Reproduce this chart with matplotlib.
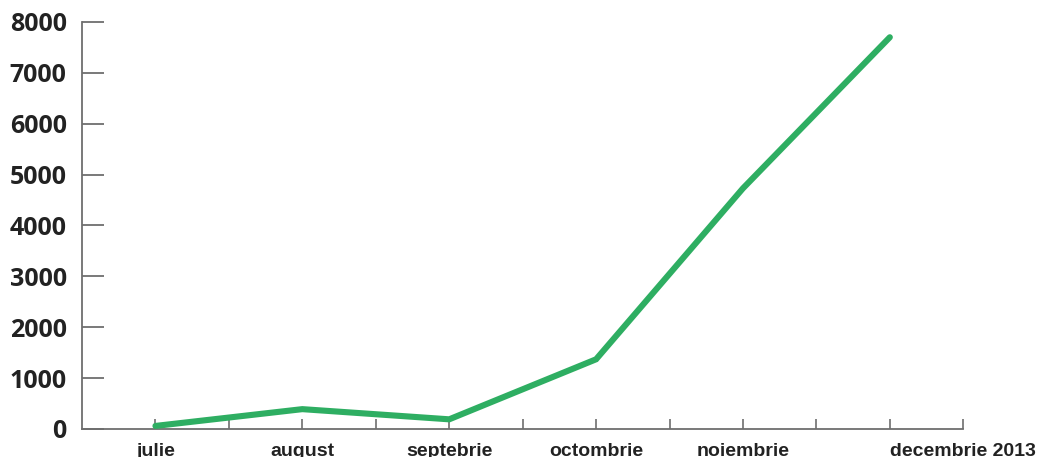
import matplotlib.pyplot as plt
import numpy as np

# monthly values
months = ['julie', 'august', 'septebrie', 'octombrie', 'noiembrie', 'decembrie 2013']
values = [60, 390, 190, 1370, 4730, 7700]
y_ticks = [0, 1000, 2000, 3000, 4000, 5000, 6000, 7000, 8000]

green = '#2eae62'
axis_gray = '#6e6e6e'

fig = plt.figure(figsize=(10.38, 4.57), dpi=100)
ax = fig.add_axes([0.079, 0.0613, 0.849, 0.8906])

x = np.arange(len(months))
ax.plot(x, values, color=green, linewidth=4.4, solid_capstyle='round',
        solid_joinstyle='miter', clip_on=False, zorder=3)

ax.set_xlim(-0.5, 5.5)
ax.set_ylim(0, 8000)

for side in ['top', 'right']:
    ax.spines[side].set_visible(False)
for side in ['left', 'bottom']:
    ax.spines[side].set_color(axis_gray)
    ax.spines[side].set_linewidth(1.3)

# y axis: long inward ticks, bold labels
ax.set_yticks(y_ticks)
ax.set_yticklabels([str(v) for v in y_ticks], fontfamily='Open Sans',
                   fontweight='bold', fontsize=18, color='#222222')
ax.tick_params(axis='y', direction='in', length=16, width=1.3,
               color=axis_gray, pad=11)

# x axis: short inward ticks at each month and half way between
ax.set_xticks(x)
ax.set_xticks(np.arange(0.5, 5.6, 1.0), minor=True)
ax.set_xticklabels(months, fontfamily='Liberation Sans', fontweight='bold',
                   fontsize=14, color='#222222')
ax.tick_params(axis='x', which='both', direction='in', length=7, width=1.2,
               color=axis_gray, pad=10)
ax.get_xticklabels()[-1].set_horizontalalignment('left')

fig.savefig('out.png', dpi=100)
